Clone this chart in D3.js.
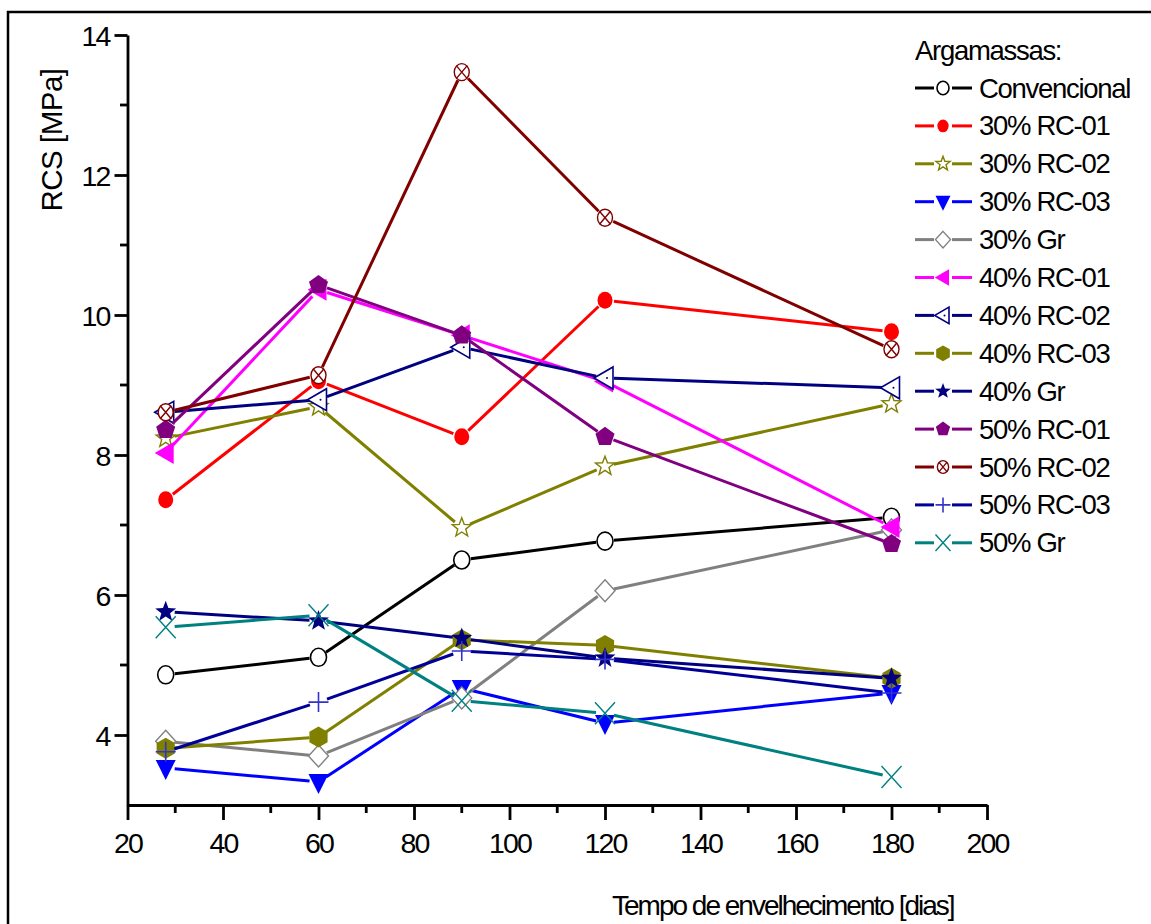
<!DOCTYPE html>
<html><head><meta charset="utf-8">
<script src="https://cdn.jsdelivr.net/npm/d3@7"></script>
<style>
html,body{margin:0;padding:0;background:#fff;}
svg{display:block;}
text{font-family:"Liberation Sans",Arial,sans-serif;fill:#000;}
</style></head>
<body>
<svg id="chart" width="1151" height="924"></svg>
<script>
// ---- data ----
const days = [28, 60, 90, 120, 180];
const seriesNames = ["Convencional","30% RC-01","30% RC-02","30% RC-03","30% Gr","40% RC-01","40% RC-02","40% RC-03","40% Gr","50% RC-01","50% RC-02","50% RC-03","50% Gr"];
const convencional = [4.86, 5.11, 6.50, 6.77, 7.11];
const rc01_30 = [7.36, 9.06, 8.26, 10.21, 9.76];
const rc02_30 = [8.24, 8.69, 6.96, 7.84, 8.73];
const rc03_30 = [3.53, 3.33, 4.67, 4.17, 4.60];
const gr_30 = [3.91, 3.70, 4.53, 6.06, 6.93];
const rc01_40 = [8.03, 10.36, 9.71, 9.05, 6.97];
const rc02_40 = [8.61, 8.79, 9.54, 9.10, 8.96];
const rc03_40 = [3.81, 3.97, 5.36, 5.28, 4.81];
const gr_40 = [5.76, 5.63, 5.38, 5.10, 4.81];
const rc01_50 = [8.36, 10.43, 9.71, 8.26, 6.73];
const rc02_50 = [8.61, 9.14, 13.47, 11.39, 9.51];
const rc03_50 = [3.76, 4.47, 5.20, 5.08, 4.60];
const gr_50 = [5.54, 5.71, 4.49, 4.31, 3.40];
const xTicks = [20,40,60,80,100,120,140,160,180,200];
const yTicks = [4,6,8,10,12,14];
const xTitle = "Tempo de envelhecimento [dias]";
const yTitle = "RCS [MPa]";
const legendTitle = "Argamassas:";

const allValues = [convencional, rc01_30, rc02_30, rc03_30, gr_30, rc01_40, rc02_40, rc03_40, gr_40, rc01_50, rc02_50, rc03_50, gr_50];
const styles = [
  {line:"#000000", mk:"circleOpen", c:"#000000"},
  {line:"#ff0000", mk:"circleFill", c:"#ff0000"},
  {line:"#808000", mk:"starOpen", c:"#808000"},
  {line:"#0000ff", mk:"triDown", c:"#0000ff"},
  {line:"#808080", mk:"diamondOpen", c:"#808080"},
  {line:"#ff00ff", mk:"triLeft", c:"#ff00ff"},
  {line:"#000080", mk:"triLeftOpen", c:"#000080"},
  {line:"#808000", mk:"hexagon", c:"#808000"},
  {line:"#000080", mk:"starFill", c:"#000080"},
  {line:"#800080", mk:"pentagon", c:"#800080"},
  {line:"#800000", mk:"circleX", c:"#800000"},
  {line:"#000099", mk:"plus", c:"#3333cc"},
  {line:"#008080", mk:"cross", c:"#008080"}
];

const svg = d3.select("#chart");
// frame
svg.append("path").attr("d","M8,924 L8,12 L1151,12").attr("fill","none").attr("stroke","#000").attr("stroke-width",2.5);

const x = d3.scaleLinear().domain([20,200]).range([127.5,987]);
const y = d3.scaleLinear().domain([3,14]).range([805,35]);

// axes
const xAxis = d3.axisBottom(x).tickValues(xTicks).tickSize(15).tickPadding(13).tickSizeOuter(0);
const gx = svg.append("g").attr("transform","translate(0,805)").call(xAxis);
const yAxis = d3.axisLeft(y).tickValues(yTicks).tickSize(13).tickPadding(5).tickSizeOuter(0);
const gy = svg.append("g").attr("transform","translate(127.5,0)").call(yAxis);
[gx,gy].forEach(g=>{
  g.select(".domain").attr("stroke","#000").attr("stroke-width",2.8);
  g.selectAll(".tick line").attr("stroke","#000").attr("stroke-width",2.8);
  g.selectAll(".tick text").attr("font-family","'Liberation Sans',Arial,sans-serif").attr("font-size",28.5).attr("letter-spacing",-1.8).attr("fill","#000");
});
gy.selectAll(".tick text").attr("dy","0.36em");
// minor ticks
const xMinor = d3.range(30,200,20);
svg.append("g").selectAll("line").data(xMinor).join("line")
  .attr("x1",d=>x(d)).attr("x2",d=>x(d)).attr("y1",805).attr("y2",813)
  .attr("stroke","#000").attr("stroke-width",2.8);
const yMinor = d3.range(5,14,2);
svg.append("g").selectAll("line").data(yMinor).join("line")
  .attr("y1",d=>y(d)).attr("y2",d=>y(d)).attr("x1",127.5).attr("x2",120)
  .attr("stroke","#000").attr("stroke-width",2.8);

// titles
svg.append("text").attr("x",612).attr("y",915).attr("font-size",28).attr("letter-spacing",-2).text(xTitle);
svg.append("text").attr("transform","translate(62,140) rotate(-90)").attr("text-anchor","middle").attr("font-size",29.5).attr("letter-spacing",-0.5).text(yTitle);

// marker drawing
function poly(n, r, rot){
  const pts=[];
  for(let i=0;i<n;i++){const a=rot+i*2*Math.PI/n;pts.push([r*Math.cos(a),r*Math.sin(a)]);}
  return "M"+pts.map(p=>p[0].toFixed(2)+","+p[1].toFixed(2)).join("L")+"Z";
}
function star(ro, ri){
  const pts=[];
  for(let i=0;i<10;i++){const r=i%2?ri:ro;const a=-Math.PI/2+i*Math.PI/5;pts.push([r*Math.cos(a),r*Math.sin(a)]);}
  return "M"+pts.map(p=>p[0].toFixed(2)+","+p[1].toFixed(2)).join("L")+"Z";
}
function drawMarker(g, type, color, s){
  switch(type){
    case "circleOpen": g.append("ellipse").attr("rx",8*s).attr("ry",9*s).attr("fill","#fff").attr("stroke",color).attr("stroke-width",1.6); break;
    case "circleFill": g.append("ellipse").attr("rx",7.5*s).attr("ry",8.5*s).attr("fill",color); break;
    case "starOpen": g.append("path").attr("d",star(10*s,4.2*s)).attr("fill","#fff").attr("stroke",color).attr("stroke-width",1.4); break;
    case "triDown": g.append("path").attr("d",`M${-10*s},${-8*s}L${10*s},${-8*s}L0,${12*s}Z`).attr("fill",color); break;
    case "diamondOpen": g.append("path").attr("d",`M0,${-11*s}L${10*s},0L0,${11*s}L${-10*s},0Z`).attr("fill","#fff").attr("stroke",color).attr("stroke-width",1.4); break;
    case "triLeft": g.append("path").attr("d",`M${-11*s},0L${8*s},${-11*s}L${8*s},${11*s}Z`).attr("fill",color); break;
    case "triLeftOpen": g.append("path").attr("d",`M${-11*s},0L${8*s},${-11*s}L${8*s},${11*s}Z`).attr("fill","#fff").attr("stroke",color).attr("stroke-width",1.6);
      g.append("circle").attr("cx",2*s).attr("r",1).attr("fill",color); break;
    case "hexagon": g.append("path").attr("d",poly(6,10.5*s,-Math.PI/2)).attr("fill",color); break;
    case "starFill": g.append("path").attr("d",star(11*s,4.6*s)).attr("fill",color); break;
    case "pentagon": g.append("path").attr("d",poly(5,10*s,-Math.PI/2)).attr("fill",color); break;
    case "circleX": g.append("ellipse").attr("rx",7.5*s).attr("ry",8.5*s).attr("fill","#fff").attr("stroke",color).attr("stroke-width",1.4);
      g.append("path").attr("d",`M${-5.5*s},${-6.5*s}L${5.5*s},${6.5*s}M${5.5*s},${-6.5*s}L${-5.5*s},${6.5*s}`).attr("stroke",color).attr("stroke-width",1.4); break;
    case "plus": g.append("path").attr("d",`M${-10*s},0L${10*s},0M0,${-10*s}L0,${10*s}`).attr("stroke",color).attr("stroke-width",1.6); break;
    case "cross": g.append("path").attr("d",`M${-10*s},${-11*s}L${10*s},${11*s}M${10*s},${-11*s}L${-10*s},${11*s}`).attr("stroke",color).attr("stroke-width",1.4); break;
  }
}

// series
const gap = 9;
allValues.forEach((vals, si)=>{
  const st = styles[si];
  const g = svg.append("g");
  const pts = days.map((d,i)=>[x(d), y(vals[i])]);
  for(let i=0;i<pts.length-1;i++){
    const [x1,y1]=pts[i],[x2,y2]=pts[i+1];
    const dx=x2-x1, dy=y2-y1, L=Math.hypot(dx,dy);
    if(L<2*gap) continue;
    const ux=dx/L, uy=dy/L;
    g.append("line").attr("x1",x1+ux*gap).attr("y1",y1+uy*gap).attr("x2",x2-ux*gap).attr("y2",y2-uy*gap)
      .attr("stroke",st.line).attr("stroke-width",3);
  }
  pts.forEach(p=>{
    const mg = g.append("g").attr("transform",`translate(${p[0]},${p[1]})`);
    drawMarker(mg, st.mk, st.c, 1);
  });
});

// legend
const lg = svg.append("g");
lg.append("text").attr("x",915).attr("y",60).attr("font-size",27.5).attr("letter-spacing",-1.3).text(legendTitle);
seriesNames.forEach((name, i)=>{
  const cy = 88 + i*37.9;
  const st = styles[i];
  lg.append("line").attr("x1",915).attr("x2",934).attr("y1",cy).attr("y2",cy).attr("stroke",st.line).attr("stroke-width",3);
  lg.append("line").attr("x1",952).attr("x2",972).attr("y1",cy).attr("y2",cy).attr("stroke",st.line).attr("stroke-width",3);
  drawMarker(lg.append("g").attr("transform",`translate(943,${cy})`), st.mk, st.c, 0.75);
  lg.append("text").attr("x",979).attr("y",cy+9.5).attr("font-size",27.5).attr("letter-spacing",-1.3).text(name);
});
</script>
</body></html>
